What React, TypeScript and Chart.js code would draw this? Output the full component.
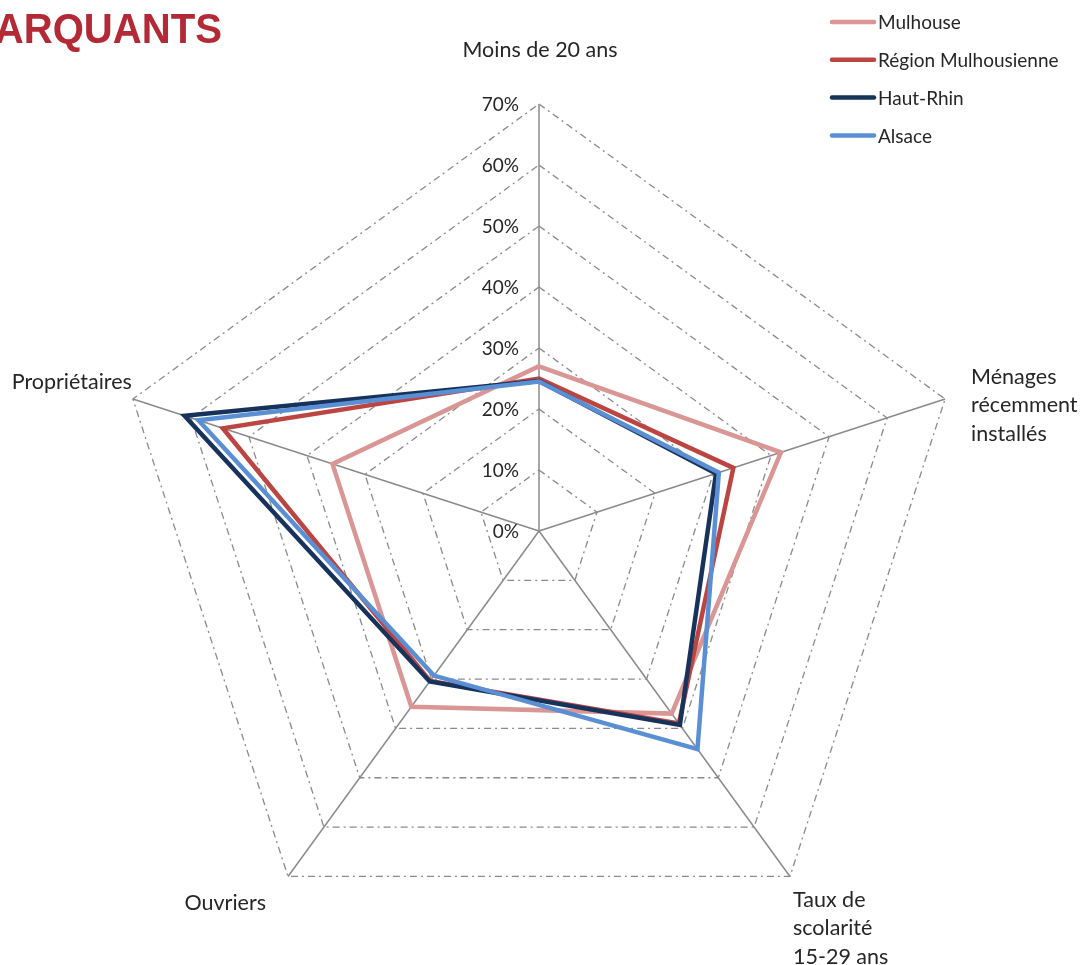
import React, { useEffect, useRef } from "react";
import { Chart, registerables } from "chart.js";

Chart.register(...registerables);

const CATEGORIES: string[][] = [
  ["Moins de 20 ans"],
  ["Ménages", "récemment", "installés"],
  ["Taux de", "scolarité", "15-29 ans"],
  ["Ouvriers"],
  ["Propriétaires"],
];

const SERIES_NAMES = ["Mulhouse", "Région Mulhousienne", "Haut-Rhin", "Alsace"];

const MULHOUSE = [27.0, 41.7, 37.0, 35.6, 35.6];
const REGION_MULHOUSIENNE = [25.0, 33.5, 39.0, 30.4, 54.5];
const HAUT_RHIN = [24.6, 30.5, 39.3, 30.5, 61.1];
const ALSACE = [24.5, 31.0, 44.2, 29.3, 58.7];

const TICK_VALUES = [0, 10, 20, 30, 40, 50, 60, 70];
const TITLE_TEXT = "MARQUANTS";

const COLORS = ["#D99694", "#BC4541", "#17335C", "#5A8FD3"];

const FONT = "Lato, 'Open Sans', sans-serif";
const TEXT_COLOR = "#262626";

// label placement styles relative to axis ends
const LABEL_STYLE = [
  { dx: 1, dy: -54, align: "center" as CanvasTextAlign },
  { dx: 26, dy: -22, align: "left" as CanvasTextAlign },
  { dx: 3, dy: 23.5, align: "left" as CanvasTextAlign },
  { dx: -22, dy: 26.5, align: "right" as CanvasTextAlign },
  { dx: -1, dy: -17, align: "right" as CanvasTextAlign },
];

const decorPlugin = {
  id: "decor",
  afterDraw(chart: any) {
    const ctx: CanvasRenderingContext2D = chart.ctx;
    const scale = chart.scales.r;
    // title
    ctx.save();
    ctx.font = "bold 42px 'Liberation Sans', Arial, sans-serif";
    ctx.fillStyle = "#B32A36";
    ctx.textAlign = "right";
    ctx.textBaseline = "alphabetic";
    ctx.translate(222, 43);
    ctx.scale(0.955, 1);
    ctx.fillText(TITLE_TEXT, 0, 0);
    ctx.restore();

    // tick labels
    ctx.save();
    ctx.font = `19px ${FONT}`;
    ctx.fillStyle = TEXT_COLOR;
    ctx.textAlign = "right";
    ctx.textBaseline = "middle";
    TICK_VALUES.forEach((v) => {
      const d = scale.getDistanceFromCenterForValue(v);
      ctx.fillText(`${v}%`, scale.xCenter - 20, scale.yCenter - d + 1);
    });
    ctx.restore();

    // point labels
    ctx.save();
    ctx.font = `21.5px ${FONT}`;
    ctx.fillStyle = TEXT_COLOR;
    ctx.textBaseline = "middle";
    const labels: string[][] = chart.data.labels;
    labels.forEach((lines, i) => {
      const p = scale.getPointPosition(i, scale.drawingArea);
      const st = LABEL_STYLE[i];
      ctx.textAlign = st.align;
      lines.forEach((line, j) => {
        ctx.fillText(line, p.x + st.dx, p.y + st.dy + j * 28.5);
      });
    });
    ctx.restore();

    // legend
    ctx.save();
    ctx.font = `19px ${FONT}`;
    ctx.textBaseline = "middle";
    ctx.textAlign = "left";
    ctx.lineCap = "round";
    chart.data.datasets.forEach((ds: any, i: number) => {
      const y = 22 + i * 37.8;
      ctx.strokeStyle = ds.borderColor;
      ctx.lineWidth = 4.5;
      ctx.beginPath();
      ctx.moveTo(832, y);
      ctx.lineTo(874, y);
      ctx.stroke();
      ctx.fillStyle = TEXT_COLOR;
      ctx.fillText(ds.label, 878, y + 1);
    });
    ctx.restore();
  },
};

export default function App() {
  const ref = useRef<HTMLCanvasElement | null>(null);

  useEffect(() => {
    if (!ref.current) return;
    const seriesData = [MULHOUSE, REGION_MULHOUSIENNE, HAUT_RHIN, ALSACE];
    const chart = new Chart(ref.current, {
      type: "radar",
      data: {
        labels: CATEGORIES,
        datasets: seriesData.map((d, i) => ({
          label: SERIES_NAMES[i],
          data: d,
          borderColor: COLORS[i],
          backgroundColor: "transparent",
          borderWidth: 4.5,
          fill: false,
          pointRadius: 0,
          pointHoverRadius: 0,
          order: 4 - i,
          borderJoinStyle: "miter" as CanvasLineJoin,
        })),
      },
      options: {
        animation: false,
        responsive: false,
        devicePixelRatio: 1,
        layout: { padding: 0 },
        elements: { line: { tension: 0 } },
        plugins: {
          legend: { display: false },
          tooltip: { enabled: false },
          title: { display: false },
        },
        scales: {
          r: {
            min: 0,
            max: 70,
            ticks: { stepSize: 10, display: false },
            pointLabels: { display: false },
            grid: { color: "#8a8a8a", lineWidth: 1.3 },
            border: { dash: [7, 4, 2, 4] },
            angleLines: { color: "#8a8a8a", lineWidth: 1.5 },
            afterFit: (s: any) => {
              s.xCenter = 539;
              s.yCenter = 531;
              s.drawingArea = 427;
            },
          } as any,
        },
      },
      plugins: [decorPlugin],
    });
    return () => chart.destroy();
  }, []);

  return (
    <div style={{ position: "absolute", left: 0, top: 0, width: 1086, height: 965, background: "#fff" }}>
      <canvas ref={ref} width={1086} height={965} style={{ display: "block", width: 1086, height: 965 }} />
    </div>
  );
}
